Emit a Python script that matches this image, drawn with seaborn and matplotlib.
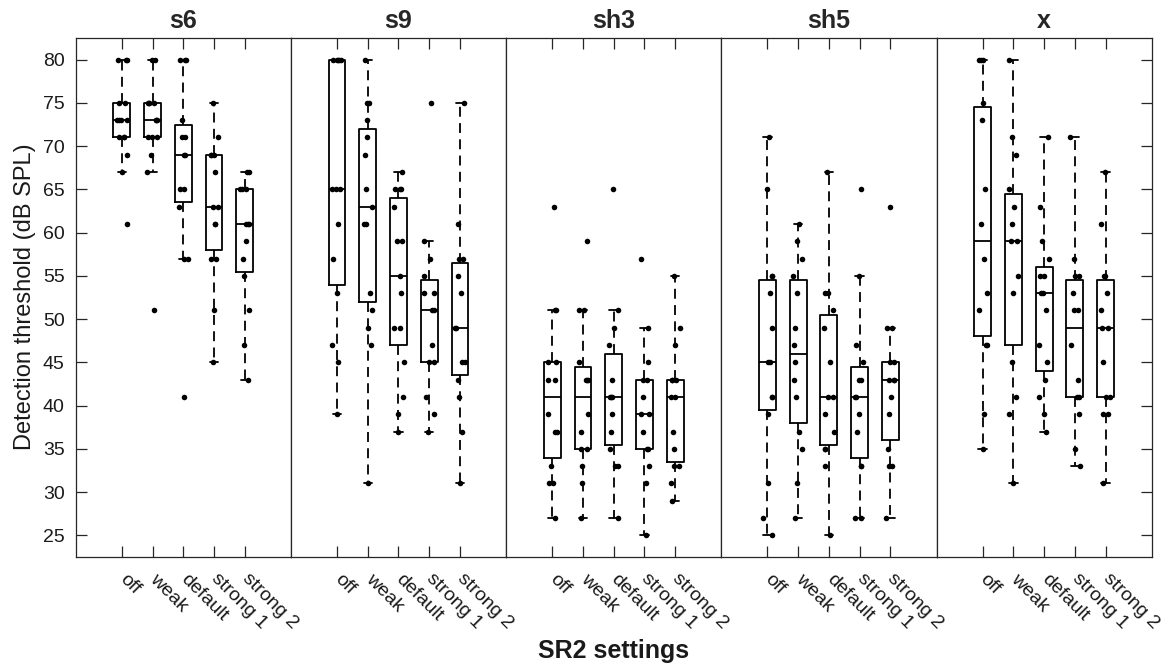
import numpy as np
import pandas as pd
import matplotlib.pyplot as plt
import seaborn as sns

# SR2 settings on the x axis of every panel
settings = ['off', 'weak', 'default', 'strong 1', 'strong 2']
panels = ['s6', 's9', 'sh3', 'sh5', 'x']

# detection thresholds (dB SPL), one list per setting
s6 = [
    [61, 67, 69, 71, 71, 71, 73, 73, 73, 73, 75, 75, 80, 80, 80],
    [51, 67, 69, 71, 71, 71, 73, 73, 73, 75, 75, 75, 75, 80, 80],
    [41, 57, 57, 63, 65, 65, 69, 69, 71, 71, 73, 80, 80, 80],
    [45, 51, 57, 57, 61, 61, 63, 63, 67, 69, 69, 69, 71, 75],
    [43, 47, 51, 55, 57, 59, 61, 61, 61, 65, 65, 65, 67, 67],
]
s9 = [
    [39, 45, 47, 53, 57, 61, 65, 65, 65, 80, 80, 80, 80, 80],
    [31, 47, 49, 51, 53, 61, 61, 63, 65, 69, 71, 73, 75, 75, 80],
    [37, 39, 41, 45, 49, 49, 53, 55, 59, 59, 63, 65, 65, 65, 67],
    [37, 39, 41, 45, 45, 47, 51, 51, 53, 53, 55, 57, 59, 75],
    [31, 37, 41, 43, 45, 45, 49, 49, 53, 55, 57, 57, 61, 75],
]
sh3 = [
    [27, 31, 31, 33, 37, 37, 39, 43, 43, 45, 45, 51, 51, 63],
    [27, 31, 33, 35, 35, 37, 39, 43, 43, 43, 45, 51, 51, 59],
    [27, 33, 33, 35, 37, 39, 41, 41, 41, 43, 47, 49, 51, 65],
    [25, 31, 33, 35, 35, 37, 39, 39, 41, 43, 43, 45, 49, 57],
    [29, 31, 33, 33, 35, 37, 41, 41, 43, 43, 43, 47, 49, 55],
]
sh5 = [
    [25, 27, 31, 39, 41, 41, 45, 45, 49, 53, 55, 55, 65, 71],
    [27, 31, 35, 37, 41, 43, 45, 47, 49, 53, 55, 57, 59, 61],
    [25, 33, 35, 35, 37, 39, 41, 41, 45, 49, 51, 53, 53, 67],
    [27, 27, 33, 33, 37, 39, 41, 41, 43, 43, 45, 47, 55, 65],
    [27, 33, 33, 35, 39, 41, 43, 43, 43, 45, 45, 49, 49, 63],
]
x_vals = [
    [35, 39, 47, 47, 51, 53, 57, 61, 65, 73, 75, 80, 80, 80],
    [31, 39, 41, 45, 53, 55, 59, 59, 61, 63, 65, 69, 71, 80],
    [37, 39, 41, 43, 45, 47, 51, 53, 53, 55, 55, 57, 59, 63, 71],
    [33, 35, 39, 41, 41, 43, 47, 51, 51, 53, 55, 55, 57, 71],
    [31, 39, 39, 41, 41, 45, 49, 49, 51, 53, 55, 55, 61, 67],
]

rows = []
for p, groups in zip(panels, [s6, s9, sh3, sh5, x_vals]):
    for setting, vals in zip(settings, groups):
        for v in vals:
            rows.append((p, setting, v))
df = pd.DataFrame(rows, columns=['panel', 'setting', 'threshold'])

sns.set_theme(style='white')
plt.rcParams['font.family'] = ['Liberation Sans', 'DejaVu Sans']
np.random.seed(4)

axcol = '#262626'
fig = plt.figure(figsize=(11.61, 6.65), dpi=100)
left, bottom = 75.7 / 1161, 1 - 557 / 665
w, h = 215.2 / 1161, (557 - 38) / 665
axes = [fig.add_axes([left + i * w, bottom, w, h]) for i in range(5)]

for i, (ax, p) in enumerate(zip(axes, panels)):
    d = df[df.panel == p]
    sns.boxplot(data=d, x='setting', y='threshold', order=settings, ax=ax,
                width=0.55, fill=False, color='black', linewidth=1.3,
                showfliers=False, whis=1.5,
                whiskerprops={'linestyle': (0, (5.5, 3.5))})
    sns.stripplot(data=d, x='setting', y='threshold', order=settings, ax=ax,
                  color='black', size=4, jitter=0.17, linewidth=0)
    ax.set_xlim(-1.5, 5.5)
    ax.set_ylim(22.5, 82.5)
    ax.set_xlabel('')
    ax.set_ylabel('')
    ax.set_title(p, fontsize=18, fontweight='bold', pad=7)
    for s in ax.spines.values():
        s.set_color(axcol)
        s.set_linewidth(0.9)
    ax.set_xticks(range(5))
    ax.set_xticklabels(settings, rotation=-45, ha='left', va='center',
                       rotation_mode='anchor')
    ax.tick_params(axis='x', direction='in', top=True, bottom=True, length=8,
                   width=0.9, color=axcol, labelsize=14, labelcolor='#1a1a1a', pad=14)
    ax.set_yticks(range(25, 81, 5))
    if i == 0:
        ax.tick_params(axis='y', direction='in', left=True, right=False, length=8,
                       width=0.9, color=axcol, labelsize=14, labelcolor='#1a1a1a', pad=8)
    elif i == 4:
        ax.tick_params(axis='y', direction='in', left=False, right=True, length=8,
                       width=0.9, color=axcol, labelleft=False)
    else:
        ax.tick_params(axis='y', left=False, right=False, labelleft=False)

fig.text(25 / 1161, 1 - 297 / 665, 'Detection threshold (dB SPL)', rotation=90,
         ha='center', va='center', fontsize=17, color='#1a1a1a')
fig.text(613.5 / 1161, 1 - 651 / 665, 'SR2 settings', ha='center', va='center',
         fontsize=18, fontweight='bold', color='#1a1a1a')

fig.savefig('out.png', dpi=100, facecolor='white')
